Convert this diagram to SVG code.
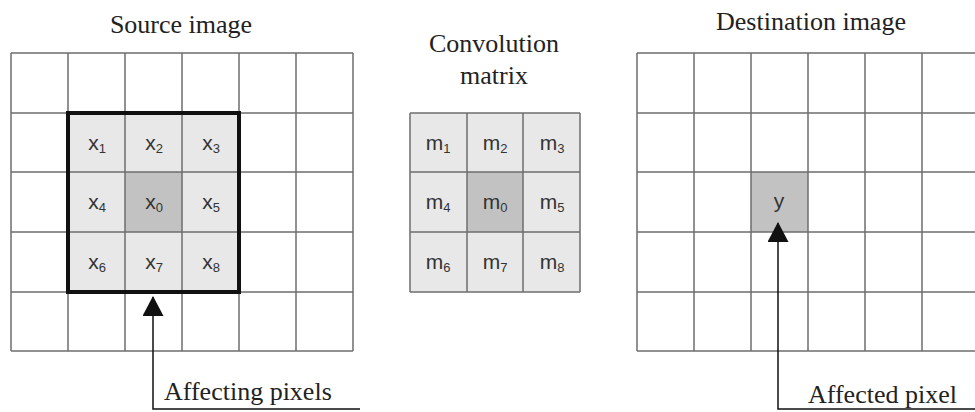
<svg xmlns="http://www.w3.org/2000/svg" width="975" height="412" viewBox="0 0 975 412">
<style>
.title{font-family:"Liberation Serif","Times New Roman",serif;font-size:26px;fill:#222;text-anchor:middle}
.lbl{font-family:"Liberation Serif","Times New Roman",serif;font-size:26px;fill:#222}
.grid{stroke:#6e6e6e;stroke-width:1.5;fill:none}
.cell{fill:#e8e8e8}
.mid{fill:#c2c2c2}
.v{font-family:"Liberation Sans",Arial,sans-serif;font-size:21px;fill:#333;text-anchor:middle}
.s{font-size:13px}
.conn{stroke:#111;stroke-width:1.5;fill:none}
</style>
<defs>
<marker id="tri" markerUnits="userSpaceOnUse" markerWidth="22" markerHeight="22" refX="19" refY="10.5" orient="auto">
<path d="M0,0 L20,10.5 L0,21 Z" fill="#111"/>
</marker>
</defs>
<rect width="975" height="412" fill="#fff"/>

<g id="source">
<text class="title" x="181" y="33">Source image</text>
<rect class="cell" x="68" y="113" width="171" height="179"/>
<rect class="mid" x="125" y="172" width="57" height="60"/>
<path class="grid" d="M11,53H353M11,113H353M11,172H353M11,232H353M11,292H353M11,351H353M11,53V351M68,53V351M125,53V351M182,53V351M239,53V351M296,53V351M353,53V351"/>
<rect x="68" y="113" width="171" height="179" fill="none" stroke="#111" stroke-width="4"/>
<text class="v" x="97" y="150">x<tspan class="s" dy="3">1</tspan></text>
<text class="v" x="154" y="150">x<tspan class="s" dy="3">2</tspan></text>
<text class="v" x="211" y="150">x<tspan class="s" dy="3">3</tspan></text>
<text class="v" x="97" y="209">x<tspan class="s" dy="3">4</tspan></text>
<text class="v" x="154" y="209">x<tspan class="s" dy="3">0</tspan></text>
<text class="v" x="211" y="209">x<tspan class="s" dy="3">5</tspan></text>
<text class="v" x="97" y="269">x<tspan class="s" dy="3">6</tspan></text>
<text class="v" x="154" y="269">x<tspan class="s" dy="3">7</tspan></text>
<text class="v" x="211" y="269">x<tspan class="s" dy="3">8</tspan></text>
</g>

<g id="kernel">
<text class="title" x="494" y="52">Convolution</text>
<text class="title" x="494" y="84">matrix</text>
<rect class="cell" x="410" y="113" width="170" height="179"/>
<rect class="mid" x="467" y="172" width="56" height="60"/>
<path class="grid" d="M410,113H580M410,172H580M410,232H580M410,292H580M410,113V292M467,113V292M523,113V292M580,113V292"/>
<text class="v" x="438" y="150">m<tspan class="s" dy="3">1</tspan></text>
<text class="v" x="495" y="150">m<tspan class="s" dy="3">2</tspan></text>
<text class="v" x="552" y="150">m<tspan class="s" dy="3">3</tspan></text>
<text class="v" x="438" y="209">m<tspan class="s" dy="3">4</tspan></text>
<text class="v" x="495" y="209">m<tspan class="s" dy="3">0</tspan></text>
<text class="v" x="552" y="209">m<tspan class="s" dy="3">5</tspan></text>
<text class="v" x="438" y="269">m<tspan class="s" dy="3">6</tspan></text>
<text class="v" x="495" y="269">m<tspan class="s" dy="3">7</tspan></text>
<text class="v" x="552" y="269">m<tspan class="s" dy="3">8</tspan></text>
</g>

<g id="destination">
<text class="title" x="811" y="30">Destination image</text>
<rect class="mid" x="751" y="172" width="57" height="60"/>
<path class="grid" d="M637,53H975M637,113H975M637,172H975M637,232H975M637,292H975M637,351H975M637,53V351M694,53V351M751,53V351M808,53V351M865,53V351M922,53V351"/>
<text class="v" x="779" y="208">y</text>
</g>

<g id="connectors">
<polyline class="conn" points="360,409 153,409 153,297" marker-end="url(#tri)"/>
<polyline class="conn" points="975,409 778,409 778,223" marker-end="url(#tri)"/>
</g>

<g id="label-affecting">
<text class="lbl" x="164" y="400">Affecting pixels</text>
</g>
<g id="label-affected">
<text class="lbl" x="808" y="403">Affected pixel</text>
</g>
</svg>
